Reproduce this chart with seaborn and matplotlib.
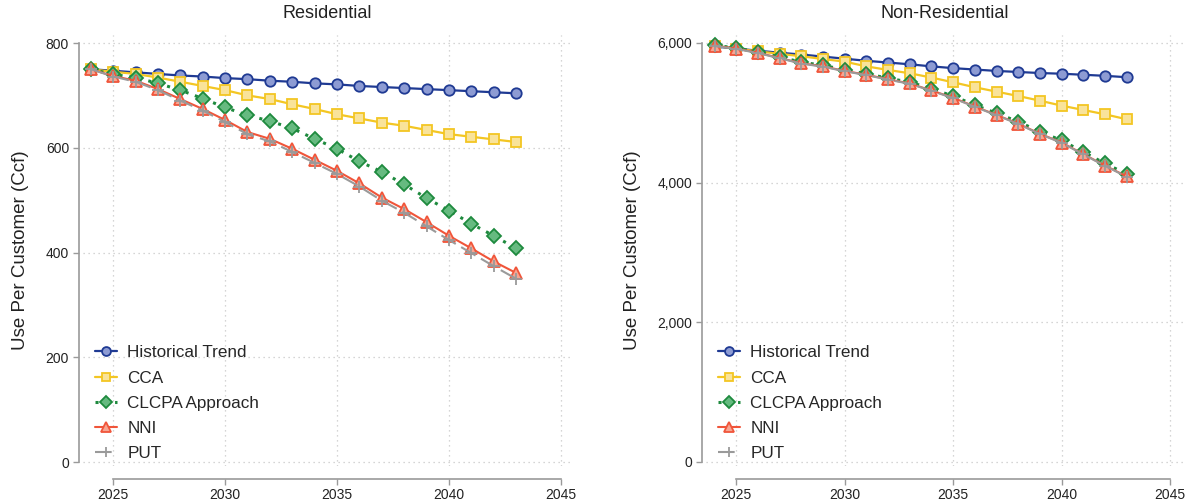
import matplotlib
matplotlib.use("Agg")
import matplotlib.pyplot as plt
import seaborn as sns
import pandas as pd
from matplotlib.ticker import FuncFormatter

years = list(range(2024, 2044))

res_hist = [750, 747, 744, 741, 738, 736, 733, 731, 728, 726, 723, 721, 718, 716, 714, 712, 710, 708, 706, 704]
res_cca = [750, 745, 741, 734, 726, 718, 710, 700, 693, 683, 674, 664, 656, 648, 642, 634, 626, 621, 616, 611]
res_clcpa = [750, 740, 734, 723, 710, 694, 677, 662, 651, 637, 617, 598, 574, 554, 530, 504, 480, 455, 432, 408]
res_nni = [750, 737, 728, 712, 693, 674, 653, 630, 617, 598, 577, 556, 532, 505, 483, 458, 432, 408, 383, 361]
res_put = [750, 736, 726, 710, 690, 671, 649, 626, 612, 592, 571, 550, 526, 499, 476, 450, 424, 399, 374, 350]

non_hist = [5950, 5920, 5890, 5860, 5835, 5805, 5775, 5745, 5720, 5695, 5665, 5640, 5620, 5600, 5585, 5570, 5560, 5545, 5530, 5510]
non_cca = [5960, 5920, 5880, 5845, 5810, 5770, 5733, 5665, 5614, 5566, 5505, 5437, 5366, 5303, 5241, 5174, 5103, 5041, 4979, 4908]
non_clcpa = [5965, 5930, 5870, 5800, 5725, 5680, 5615, 5560, 5495, 5440, 5345, 5240, 5112, 4993, 4874, 4730, 4605, 4440, 4275, 4125]
non_nni = [5960, 5920, 5860, 5785, 5710, 5665, 5600, 5545, 5480, 5420, 5320, 5215, 5090, 4970, 4845, 4700, 4575, 4410, 4245, 4090]
non_put = [5955, 5915, 5855, 5780, 5705, 5660, 5595, 5540, 5475, 5415, 5315, 5210, 5085, 4965, 4840, 4695, 4570, 4405, 4240, 4085]

series_names = ["Historical Trend", "CCA", "CLCPA Approach", "NNI", "PUT"]
panel_titles = ["Residential", "Non-Residential"]
x_ticks = [2025, 2030, 2035, 2040, 2045]
res_yticks = [0, 200, 400, 600, 800]
non_yticks = [0, 2000, 4000, 6000]
ylabel = "Use Per Customer (Ccf)"

styles = {
    "Historical Trend": dict(color="#1f3a93", marker="o", mfc="#8d9bd3", ls="-", ms=7.5, lw=1.6),
    "CCA": dict(color="#f3c623", marker="s", mfc="#f9e39a", ls="-", ms=7.5, lw=1.6),
    "CLCPA Approach": dict(color="#1e8a3e", marker="D", mfc="#66ba80", ls=(0, (1, 2.2)), ms=7.0, lw=2.2),
    "NNI": dict(color="#f0553a", marker="^", mfc="#f7a592", ls="-", ms=8.0, lw=1.5),
    "PUT": dict(color="#9a9a9a", marker="+", mfc="#9a9a9a", ls=(0, (8, 3)), ms=8.0, lw=1.5),
}

sns.set_theme(style="white")
plt.rcParams["font.family"] = ["Liberation Sans", "DejaVu Sans"]

W, H = 1191, 504
fig = plt.figure(figsize=(W / 100, H / 100), dpi=100)

def make_axes(l, r, t, b):
    return fig.add_axes([l / W, (H - b) / H, (r - l) / W, (b - t) / H])

ax1 = make_axes(83, 572, 35, 466)
ax2 = make_axes(706, 1183, 35, 466)

panels = [
    (ax1, [res_hist, res_cca, res_clcpa, res_nni, res_put], res_yticks, (-7.6, 815.3), (2023.65, 2045.5)),
    (ax2, [non_hist, non_cca, non_clcpa, non_nni, non_put], non_yticks, (-57.3, 6114.5), (2023.6, 2045.6)),
]

for i, (ax, data, yt, ylim, xlim) in enumerate(panels):
    for name, vals in zip(series_names, data):
        st = styles[name]
        df = pd.DataFrame({"year": years, "value": vals})
        sns.lineplot(data=df, x="year", y="value", ax=ax, color=st["color"],
                     linestyle=st["ls"], linewidth=st["lw"], marker=st["marker"],
                     markersize=st["ms"], markerfacecolor=st["mfc"],
                     markeredgecolor=st["color"], markeredgewidth=1.3,
                     label=name, zorder=3)
    ax.set_xlim(*xlim)
    ax.set_ylim(*ylim)
    ax.set_xticks(x_ticks)
    ax.set_yticks(yt)
    ax.yaxis.set_major_formatter(FuncFormatter(lambda v, p: f"{int(v):,}"))
    ax.grid(True, linestyle=(0, (1, 3)), color="#c8c8c8", linewidth=0.9)
    ax.set_axisbelow(True)
    for s in ["top", "right"]:
        ax.spines[s].set_visible(False)
    ax.spines["left"].set_position(("outward", 3))
    ax.spines["bottom"].set_position(("outward", 9))
    ax.spines["left"].set_bounds(yt[0], yt[-1])
    ax.spines["bottom"].set_bounds(x_ticks[0], x_ticks[-1])
    for s in ["left", "bottom"]:
        ax.spines[s].set_color("#9a9a9a")
        ax.spines[s].set_linewidth(1.2)
    ax.tick_params(axis="both", which="major", direction="out", length=4, width=1,
                   color="#9a9a9a", labelsize=10, labelcolor="#222222", left=True, bottom=True, pad=3)
    ax.set_xlabel("")
    ax.set_ylabel(ylabel, fontsize=13.5, color="#222222", labelpad=12)
    ax.set_title(panel_titles[i], fontsize=13, color="#222222", pad=12)
    ax.legend(loc="lower left", bbox_to_anchor=(0.0, -0.017), frameon=False, fontsize=12.3,
              handlelength=1.3, handletextpad=0.6, labelspacing=0.6, borderaxespad=0.3,
              markerscale=0.85)

fig.savefig("out.png", dpi=100)
